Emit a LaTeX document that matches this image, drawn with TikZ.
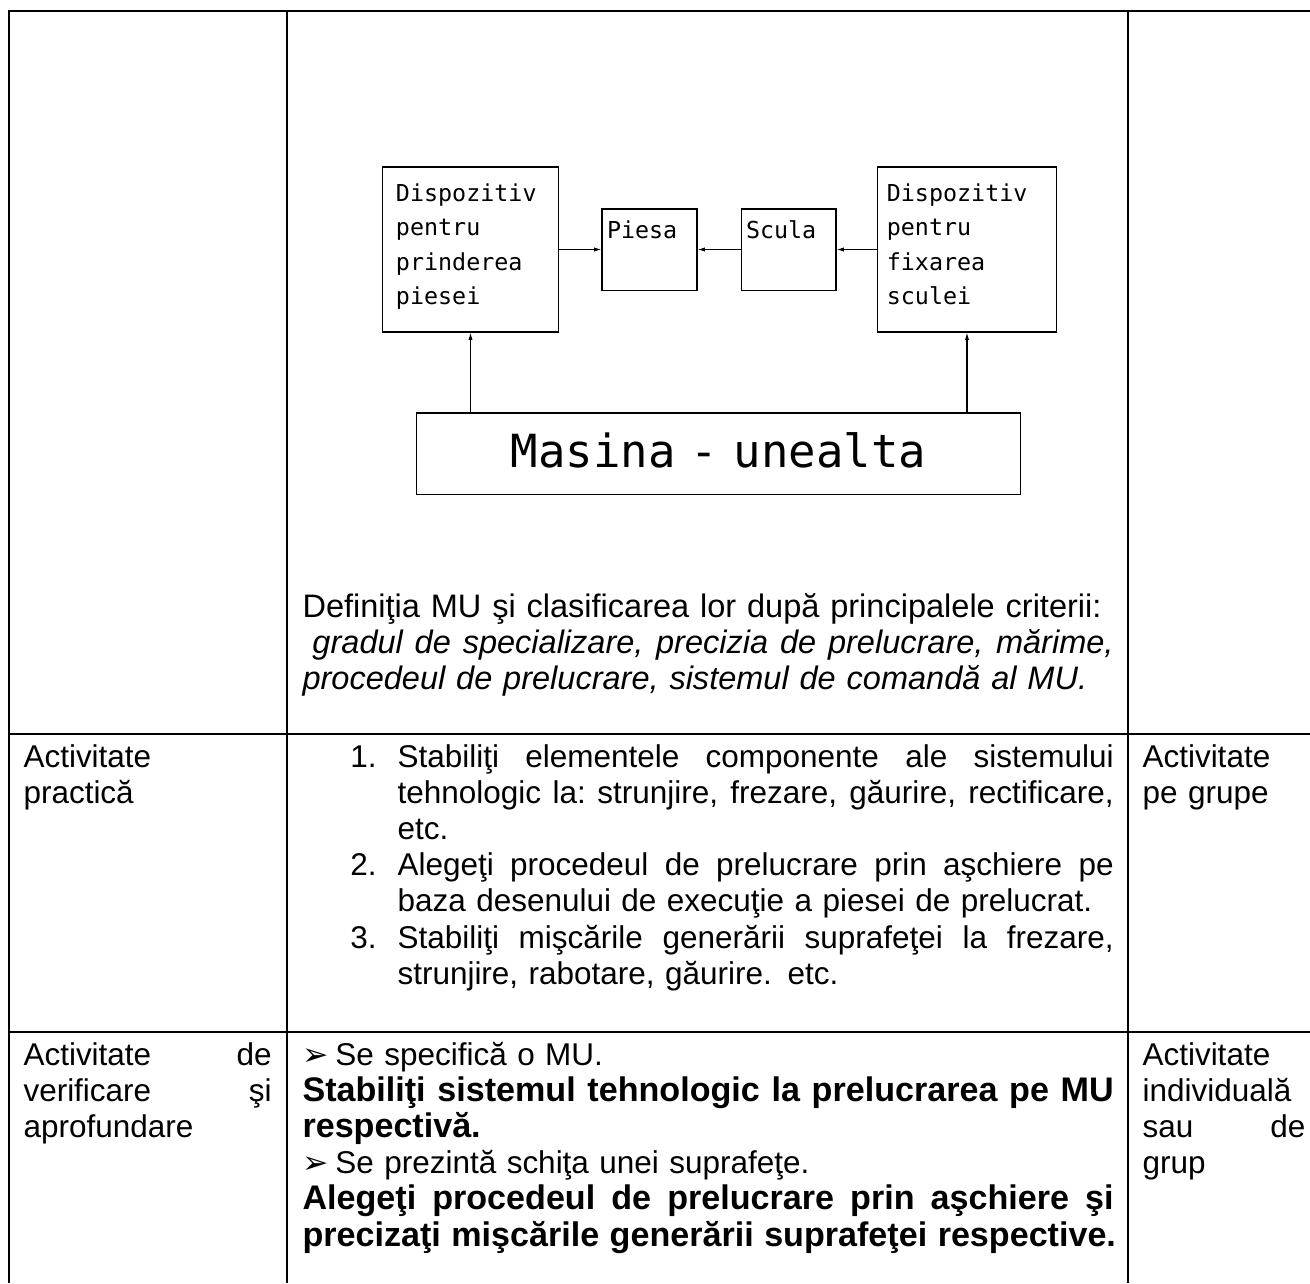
\documentclass[tikz,border=0pt]{standalone}
\usepackage{fontspec}
\setmainfont{Liberation Sans}
\newfontfamily\cadschrift{DejaVu Sans Mono}
\newfontfamily\symschrift{DejaVu Sans}
\usepackage{tikz}
\usetikzlibrary{arrows.meta,positioning,calc}
%Zeile im Blocksatz (Word-Stil)
\newcommand{\zeile}[1]{\makebox[\hsize][s]{\spaceskip=0.278em plus 1fil\relax\xspaceskip=\spaceskip #1}}
\newcommand{\nr}[1]{\leavevmode\llap{\makebox[18pt][l]{#1}}}
\newcommand{\pfeil}{\leavevmode\makebox[12.5pt][l]{\symschrift ➢}}
\newcommand{\fett}{\fontsize{13}{13.8}\selectfont\bfseries}

\begin{document}
\begin{tikzpicture}[x=0.0134cm,y=-0.0134cm,
  tabelle/.style={line width=0.75pt},
  kasten/.style={draw,line width=0.4pt,align=left,inner ysep=0pt,
    font=\cadschrift\fontsize{8.9}{13}\selectfont},
  zelle/.style={anchor=base west,align=left,inner sep=0pt,
    font=\fontsize{12}{13.8}\selectfont},
  pfeilstil/.style={-{Latex[length=2.8pt,width=1.6pt]},line width=0.4pt}]
\useasboundingbox (0,0) rectangle (1310,1283);
%Tabelle
\draw[tabelle] (9,1283) -- (9,11) -- (1310,11);
\draw[tabelle] (287,11) -- (287,1283);
\draw[tabelle] (1128,11) -- (1128,1283);
\draw[tabelle] (9,734) -- (1310,734);
\draw[tabelle] (9,1032) -- (1310,1032);
%Schema
\node[kasten,inner xsep=5.3pt,text width=56.8pt,text height=13.3pt,text depth=49.6pt] (dispPiesa) at (470.5,249.5) {Dispozitiv\\pentru\\prinderea\\piesei};
\node[kasten,inner xsep=1.9pt,text width=32.4pt,text height=11.1pt,text depth=19.8pt] (piesa) at (649.5,249.5) {Piesa};
\node[kasten,inner xsep=1.9pt,text width=32.4pt,text height=11.1pt,text depth=19.8pt] (scula) at (788.5,249.5) {Scula};
\node[kasten,inner xsep=3.4pt,text width=61.1pt,text height=13.3pt,text depth=49.6pt] (dispScula) at (967,249.5) {Dispozitiv\\pentru\\fixarea\\sculei};
\node[kasten,align=center,inner xsep=0pt,text width=229.9pt,text height=20.6pt,text depth=10.3pt,
  font=\cadschrift\fontsize{17.4}{19}\selectfont] (masina) at (718.5,453.5) {Masina - unealta};
\draw[pfeilstil] (dispPiesa) -- (piesa);
\draw[pfeilstil] (scula) -- (piesa);
\draw[pfeilstil] (dispScula) -- (scula);
\draw[pfeilstil] (masina.north -| dispPiesa.south) -- (dispPiesa.south);
\draw[pfeilstil] (masina.north -| dispScula.south) -- (dispScula.south);
%Texte
\node[zelle,text width=309.2pt,font=\fontsize{12.4}{13.8}\selectfont] (definitie) at (302,617) {Definiţia MU şi clasificarea lor după principalele criterii:\\
  \zeile{\hspace{3.8pt}\itshape gradul de specializare, precizia de prelucrare, mărime,}\\
  \textit{procedeul de prelucrare, sistemul de comandă al MU.}};
\node[zelle,text width=100pt] (practica) at (23,767) {Activitate\\practică};
\node[zelle,text width=273pt] (lista) at (397,767) {\nr{1.}\zeile{Stabiliţi elementele componente ale sistemului}\\
  \zeile{tehnologic la: strunjire, frezare, găurire, rectificare,}\\
  etc.\\
  \nr{2.}\zeile{Alegeţi procedeul de prelucrare prin aşchiere pe}\\
  baza desenului de execuţie a piesei de prelucrat.\\
  \nr{3.}\zeile{Stabiliţi mişcările generării suprafeţei la frezare,}\\
  strunjire, rabotare, găurire. etc.};
\node[zelle,text width=62.1pt] (grupe) at (1142,767) {Activitate\\pe grupe};
\node[zelle,text width=94.6pt] (verificare) at (23,1065) {\zeile{Activitate de}\\ \zeile{verificare şi}\\ aprofundare};
\node[zelle,text width=309.2pt] (sarcini) at (302,1065) {\pfeil Se specifică o MU.\\
  \zeile{\fett Stabiliţi sistemul tehnologic la prelucrarea pe MU}\\
  \mbox{\fett respectivă.}\\
  \pfeil Se prezintă schiţa unei suprafeţe.\\
  \zeile{\fett Alegeţi procedeul de prelucrare prin aşchiere şi}\\
  \mbox{\fett precizaţi mişcările generării suprafeţei respective.}};
\node[zelle,text width=62.1pt] (individual) at (1142,1065) {Activitate\\individuală\\ \zeile{sau de}\\grup};
\end{tikzpicture}
\end{document}
